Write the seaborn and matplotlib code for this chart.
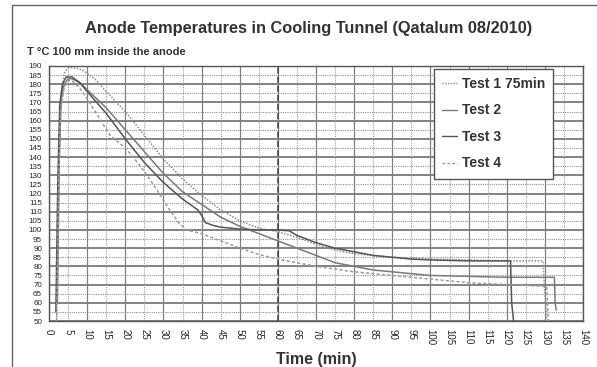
import numpy as np
import pandas as pd
import matplotlib
matplotlib.use("Agg")
import matplotlib.pyplot as plt
import seaborn as sns
from matplotlib.patches import Rectangle

# values (time in min, temperature in deg C)
t1 = [2.0, 2.5, 3.0, 4, 5, 7, 9, 12, 15, 20, 25, 30, 35, 40, 45, 50, 55, 60, 65,
      70, 75, 80, 90, 100, 110, 120, 129.5, 130.0, 130.5]
v1 = [52, 120, 170, 186, 189, 189, 187.5, 183, 176, 165, 152, 139, 128, 119, 111,
      105, 101, 99, 96, 92, 89, 87, 85, 84, 83.5, 83, 83, 65, 50]

t2 = [2.2, 2.7, 3.2, 4, 5, 6, 8, 10, 15, 20, 25, 30, 35, 40, 45, 50, 55, 60, 65,
      70, 75, 80, 85, 90, 100, 110, 120, 132.5, 132.7, 133.0]
v2 = [60, 140, 172, 180, 183, 183, 181, 177, 167, 155, 143, 131, 121, 114, 107,
      102, 98, 94, 90, 86, 82, 80, 78, 77, 75, 74.5, 74, 74, 60, 56]

t3 = [1.8, 2.3, 2.8, 3.5, 4.5, 6, 8, 10, 15, 20, 25, 30, 35, 39, 40, 41, 43, 45,
      50, 55, 60, 63, 65, 70, 75, 80, 85, 90, 95, 100, 110, 121, 121.3, 121.8]
v3 = [55, 125, 168, 180, 184, 184, 181, 176, 164, 150, 137, 126, 117, 111, 108,
      104, 102.5, 101.5, 100.5, 100, 100, 99.5, 97, 93, 90, 88, 86, 85, 84, 83.5,
      83, 83, 60, 50]

t4 = [2.0, 2.5, 3.0, 4, 5, 6, 8, 10, 13, 16, 20, 24, 28, 31, 34, 36, 40, 45, 50,
      55, 60, 65, 70, 75, 80, 90, 100, 110, 120, 130.5, 130.8, 131.0]
v4 = [50, 125, 165, 178, 182, 182, 178, 172, 162, 152, 145, 135, 123, 113, 104,
      100, 98, 94, 90, 86.5, 84, 82, 80, 78.5, 77, 75, 73, 71, 70, 69, 55, 50]

tests = ["Test 1 75min", "Test 2", "Test 3", "Test 4"]
x_ticks = list(range(0, 145, 5))
y_ticks = list(range(50, 195, 5))

frames = []
for name, t, v in zip(tests, [t1, t2, t3, t4], [v1, v2, v3, v4]):
    frames.append(pd.DataFrame({"time": t, "temp": v, "test": name}))
df = pd.concat(frames, ignore_index=True)

sns.set_style("white")
plt.rcParams["font.family"] = ["Liberation Sans", "DejaVu Sans"]

fig = plt.figure(figsize=(5.97, 3.67), dpi=100)
ax = fig.add_axes([49 / 597, 1 - 321 / 367, 534 / 597, 255 / 367])

# grid: solid every 10, dotted in between
for y in y_ticks:
    if y % 10 == 0:
        ax.axhline(y, color="#606060", lw=1.1, zorder=0)
    else:
        ax.axhline(y, color="#909090", lw=0.8, ls=(0, (1, 1)), zorder=0)
for x in x_ticks:
    if x % 10 == 0:
        ax.axvline(x, color="#808080", lw=0.9, zorder=0)
    else:
        ax.axvline(x, color="#a0a0a0", lw=0.8, ls=(0, (1, 1)), zorder=0)
ax.axvline(60, color="#404040", lw=1.1, ls=(0, (4, 2)), zorder=1)

palette = {"Test 1 75min": "#8c8c8c", "Test 2": "#7a7a7a",
           "Test 3": "#555555", "Test 4": "#9a9a9a"}
dashes = {"Test 1 75min": (1, 1), "Test 2": "", "Test 3": "", "Test 4": (2, 1.5)}
sns.lineplot(data=df, x="time", y="temp", hue="test", style="test",
             palette=palette, dashes=dashes, sort=False, estimator=None,
             lw=1.1, ax=ax, zorder=3)

ax.set_xlim(0, 140)
ax.set_ylim(50, 190)
ax.set_xticks(x_ticks)
ax.set_yticks(y_ticks)
ax.set_xticklabels([str(x) for x in x_ticks], rotation=-90, fontsize=7)
ax.set_yticklabels([str(y) for y in y_ticks], fontsize=5.8)
ax.tick_params(axis="both", length=3, width=0.8, color="#333333", pad=2,
               direction="out")
ax.tick_params(axis="x", pad=3)
for s in ax.spines.values():
    s.set_color("#555555")
    s.set_linewidth(1.0)

ax.set_xlabel("Time (min)", fontsize=11.5, fontweight="bold", color="#333333",
              labelpad=5)
ax.set_ylabel("")

leg = ax.legend(loc="upper right", bbox_to_anchor=(0.944, 0.99), fontsize=10,
                frameon=True, fancybox=False, framealpha=1, edgecolor="#555555",
                handlelength=1.1, handletextpad=0.3, labelspacing=0.9,
                borderpad=0.6, borderaxespad=0, title=None)
for txt in leg.get_texts():
    txt.set_fontweight("bold")
    txt.set_color("#333333")
for line in leg.get_lines():
    line.set_linewidth(1.0)

fig.text(0.517, 1 - 28 / 367, "Anode Temperatures in Cooling Tunnel (Qatalum 08/2010)",
         ha="center", va="center", fontsize=11.8, fontweight="bold", color="#333333")
fig.text(27 / 597, 1 - 52 / 367, "T °C 100 mm inside the anode", ha="left",
         va="center", fontsize=8, fontweight="bold", color="#333333")

fig.patches.append(Rectangle((12 / 597, -0.01), 0.99, 1 - 5 / 367 + 0.01,
                             transform=fig.transFigure, fill=False,
                             edgecolor="#666666", lw=1.0))

fig.savefig("out.png", dpi=100)
